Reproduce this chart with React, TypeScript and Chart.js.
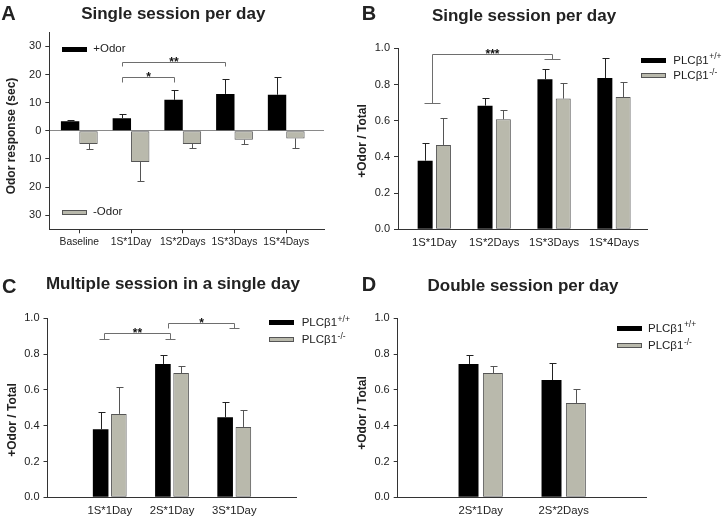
import React, { useEffect, useRef } from 'react';
import { Chart, registerables } from 'chart.js';

Chart.register(...registerables);

// ---------- Panel A: Single session per day (odor response, sec) ----------
const categoriesA = ['Baseline', '1S*1Day', '1S*2Days', '1S*3Days', '1S*4Days'];
const plusOdor = [3.4, 4.5, 11.0, 13.1, 12.8];
const plusOdorSem = [0.6, 1.3, 3.4, 5.4, 6.2];
const minusOdor = [-4.7, -11.1, -4.7, -3.2, -2.7];
const minusOdorSem = [1.7, 6.6, 1.3, 1.4, 3.4];
const yTicksA = [-30, -20, -10, 0, 10, 20, 30];

// ---------- Panel B: Single session per day (+Odor / Total) ----------
const categoriesB = ['1S*1Day', '1S*2Days', '1S*3Days', '1S*4Days'];
const wtB = [0.379, 0.683, 0.829, 0.836];
const wtSemB = [0.096, 0.044, 0.055, 0.109];
const koB = [0.466, 0.608, 0.722, 0.731];
const koSemB = [0.151, 0.049, 0.088, 0.085];

// ---------- Panel C: Multiple session in a single day ----------
const categoriesC = ['1S*1Day', '2S*1Day', '3S*1Day'];
const wtC = [0.38, 0.745, 0.447];
const wtSemC = [0.097, 0.05, 0.087];
const koC = [0.466, 0.694, 0.393];
const koSemC = [0.152, 0.041, 0.093];

// ---------- Panel D: Double session per day ----------
const categoriesD = ['2S*1Day', '2S*2Days'];
const wtD = [0.745, 0.655];
const wtSemD = [0.05, 0.097];
const koD = [0.694, 0.527];
const koSemD = [0.041, 0.076];

const ratioTicks = [0, 0.2, 0.4, 0.6, 0.8, 1.0];

// significance annotations (value units)
const sigA = [
  { from: 1, to: 2, level: 19.0, end1: 17.2, end2: 17.2, label: '*' },
  { from: 1, to: 3, level: 24.5, end1: 22.9, end2: 22.9, label: '**' },
];
const sigB = [{ from: 0, to: 2, level: 0.967, end1: 0.7, end2: 0.939, label: '***' }];
const sigC = [
  { from: 0, to: 1, level: 0.916, end1: 0.884, end2: 0.884, label: '**' },
  { from: 1, to: 2, level: 0.974, end1: 0.944, end2: 0.944, label: '*' },
];

// ---------- styles ----------
const W = 726;
const H = 519;
const YW = 40;
const XH = 20;
const FONT = '"Liberation Sans", Arial, Helvetica, sans-serif';
const TEXT = '#222222';
const AXIS = '#333333';
const BLACK = '#000000';
const GRAY_FILL = '#b9b9ac';
const GRAY_EDGE = '#555555';
const BRACKET = '#6e6e6e';

const errorBarPlugin = {
  id: 'errorBars',
  afterDatasetsDraw(chart: any) {
    const ctx = chart.ctx;
    const ys = chart.scales.y;
    chart.data.datasets.forEach((ds: any, d: number) => {
      const meta = chart.getDatasetMeta(d);
      meta.data.forEach((el: any, i: number) => {
        const v = ds.data[i].y;
        const e = ds.errors[i];
        const sign = v >= 0 ? 1 : -1;
        const yEnd = Math.round(ys.getPixelForValue(v + sign * e)) + 0.5;
        const x = Math.round(el.x) + 0.5;
        const half = 3;
        ctx.save();
        ctx.strokeStyle = ds.errColor;
        ctx.lineWidth = 1;
        ctx.beginPath();
        ctx.moveTo(x, el.y);
        ctx.lineTo(x, yEnd);
        ctx.moveTo(x - half, yEnd);
        ctx.lineTo(x + half + 1, yEnd);
        ctx.stroke();
        ctx.restore();
      });
    });
  },
};

const bracketPlugin = {
  id: 'brackets',
  afterDatasetsDraw(chart: any, _args: any, opts: any) {
    const items = opts.items || [];
    if (!items.length) return;
    const ctx = chart.ctx;
    const xs = chart.scales.x;
    const ys = chart.scales.y;
    const xAt = (i: number) =>
      opts.onBar ? chart.getDatasetMeta(0).data[i].x : xs.getPixelForValue(opts.positions[i]);
    ctx.save();
    ctx.strokeStyle = BRACKET;
    ctx.lineWidth = 1;
    items.forEach((b: any, k: number) => {
      const st = (opts.styles && opts.styles[k]) || {};
      const x1 = Math.round(xAt(b.from) + (st.dx1 || 0)) + 0.5;
      const x2 = Math.round(xAt(b.to) + (st.dx2 || 0)) + 0.5;
      const yl = Math.round(ys.getPixelForValue(b.level)) + 0.5;
      const y1 = Math.round(ys.getPixelForValue(b.end1)) + 0.5;
      const y2 = Math.round(ys.getPixelForValue(b.end2)) + 0.5;
      ctx.beginPath();
      ctx.moveTo(x1, y1);
      ctx.lineTo(x1, yl);
      ctx.lineTo(x2, yl);
      ctx.lineTo(x2, y2);
      if (st.cap1) {
        ctx.moveTo(x1 - st.cap1 / 2, y1);
        ctx.lineTo(x1 + st.cap1 / 2, y1);
      }
      if (st.cap2) {
        ctx.moveTo(x2 - st.cap2 / 2, y2);
        ctx.lineTo(x2 + st.cap2 / 2, y2);
      }
      ctx.stroke();
      ctx.fillStyle = '#111111';
      ctx.font = `bold 12px ${FONT}`;
      ctx.textAlign = 'center';
      ctx.textBaseline = 'alphabetic';
      ctx.fillText(b.label, (x1 + x2) / 2, yl + 3);
    });
    ctx.restore();
  },
};

type Area = { left: number; top: number; right: number; bottom: number };

function buildChart(canvas: HTMLCanvasElement, spec: any) {
  const { area, labels, positions, series, xMin, xMax, yMin, yMax, yTicks, yFmt, catPct, barPct, xTickColor, zeroLine, brackets, xFontSize } = spec;
  const a: Area = area;
  return new Chart(canvas, {
    type: 'bar',
    data: {
      datasets: series.map((s: any) => ({
        label: s.label,
        data: s.values.map((v: number, i: number) => ({ x: positions[i], y: v })),
        backgroundColor: s.fill,
        borderColor: s.border,
        borderWidth: s.borderWidth,
        borderSkipped: false,
        categoryPercentage: catPct,
        barPercentage: barPct,
        errors: s.sem,
        errColor: s.errColor,
      })),
    },
    options: {
      responsive: false,
      animation: false,
      devicePixelRatio: 1,
      layout: {
        padding: { left: a.left - YW, top: a.top, right: W - a.right, bottom: H - a.bottom - XH },
      },
      plugins: {
        legend: { display: false },
        tooltip: { enabled: false },
        title: { display: false },
        brackets,
      },
      scales: {
        x: {
          type: 'linear',
          min: xMin,
          max: xMax,
          offset: false,
          afterBuildTicks: (s: any) => {
            s.ticks = positions.map((v: number) => ({ value: v }));
          },
          afterFit: (s: any) => {
            s.height = XH;
          },
          ticks: {
            callback: (_v: any, i: number) => labels[i],
            font: { family: FONT, size: xFontSize },
            color: TEXT,
            padding: 3,
            maxRotation: 0,
            autoSkip: false,
          },
          grid: { display: true, offset: false, drawOnChartArea: false, drawTicks: true, tickLength: 4, tickColor: xTickColor },
          border: { display: true, color: AXIS, width: 1 },
        },
        y: {
          type: 'linear',
          min: yMin,
          max: yMax,
          afterBuildTicks: (s: any) => {
            s.ticks = yTicks.map((v: number) => ({ value: v }));
          },
          afterFit: (s: any) => {
            s.width = YW;
          },
          ticks: { callback: (v: any) => yFmt(v), font: { family: FONT, size: 11 }, color: TEXT, padding: 4 },
          grid: {
            display: true,
            drawOnChartArea: !!zeroLine,
            color: (c: any) => (zeroLine && c.tick && c.tick.value === 0 ? '#8a8a8a' : 'rgba(0,0,0,0)'),
            drawTicks: true,
            tickLength: 4,
            tickColor: AXIS,
          },
          border: { display: true, color: AXIS, width: 1 },
        },
      },
    },
    plugins: [errorBarPlugin, bracketPlugin],
  } as any);
}

const blackSeries = (label: string, values: number[], sem: number[]) => ({
  label, values, sem, fill: BLACK, border: BLACK, borderWidth: 0, errColor: '#222222',
});
const graySeries = (label: string, values: number[], sem: number[]) => ({
  label, values, sem, fill: GRAY_FILL, border: GRAY_EDGE, borderWidth: 1, errColor: GRAY_EDGE,
});

const txt = (x: number, y: number, s: any, style: any, key: string, anchor = 'center') => (
  <div
    key={key}
    style={{
      position: 'absolute',
      left: x,
      top: y,
      transform: anchor === 'center' ? 'translate(-50%,-50%)' : 'translate(0,-50%)',
      whiteSpace: 'nowrap',
      lineHeight: 1,
      fontFamily: FONT,
      color: TEXT,
      ...style,
    }}
  >
    {s}
  </div>
);

const vtxt = (x: number, y: number, s: string, key: string) => (
  <div
    key={key}
    style={{
      position: 'absolute',
      left: x,
      top: y,
      transform: 'translate(-50%,-50%) rotate(-90deg)',
      whiteSpace: 'nowrap',
      lineHeight: 1,
      fontFamily: FONT,
      fontWeight: 'bold',
      fontSize: 12,
      color: TEXT,
    }}
  >
    {s}
  </div>
);

const box = (x: number, y: number, gray: boolean, key: string) => (
  <div
    key={key}
    style={{
      position: 'absolute',
      left: x,
      top: y,
      width: 25,
      height: 5,
      boxSizing: 'border-box',
      background: gray ? GRAY_FILL : BLACK,
      border: gray ? `1px solid ${GRAY_EDGE}` : 'none',
    }}
  />
);

const plc = (sup: string) => (
  <span>
    PLCβ1<span style={{ fontSize: 8.5, position: 'relative', top: -4.5, marginLeft: 0.5 }}>{sup}</span>
  </span>
);

export default function App() {
  const refA = useRef<HTMLCanvasElement>(null);
  const refB = useRef<HTMLCanvasElement>(null);
  const refC = useRef<HTMLCanvasElement>(null);
  const refD = useRef<HTMLCanvasElement>(null);

  useEffect(() => {
    const fmt1 = (v: number) => v.toFixed(1);
    const charts: Chart[] = [];
    charts.push(
      buildChart(refA.current!, {
        area: { left: 49.3, top: 32.3, right: 324, bottom: 229.3 },
        labels: categoriesA,
        positions: categoriesA.map((_, i) => i),
        series: [blackSeries('+Odor', plusOdor, plusOdorSem), graySeries('-Odor', minusOdor, minusOdorSem)],
        xMin: -0.58,
        xMax: 4.73,
        yMin: -35,
        yMax: 35,
        yTicks: yTicksA,
        yFmt: (v: number) => String(Math.abs(v)),
        catPct: 0.711,
        barPct: 1.0,
        xTickColor: AXIS,
        zeroLine: true,
        xFontSize: 10.3,
        brackets: { items: sigA, onBar: true, styles: [{}, {}] },
      })
    );
    charts.push(
      buildChart(refB.current!, {
        area: { left: 398, top: 48.3, right: 647, bottom: 229.3 },
        labels: categoriesB,
        positions: categoriesB.map((_, i) => i),
        series: [blackSeries('PLCβ1+/+', wtB, wtSemB), graySeries('PLCβ1-/-', koB, koSemB)],
        xMin: -0.606,
        xMax: 3.551,
        yMin: 0,
        yMax: 1,
        yTicks: ratioTicks,
        yFmt: fmt1,
        catPct: 0.611,
        barPct: 0.82,
        xTickColor: 'rgba(0,0,0,0)',
        zeroLine: false,
        xFontSize: 11.3,
        brackets: {
          items: sigB,
          onBar: false,
          positions: categoriesB.map((_, i) => i),
          styles: [{ dx1: -2, dx2: -2, cap1: 16, cap2: 16 }],
        },
      })
    );
    charts.push(
      buildChart(refC.current!, {
        area: { left: 47.5, top: 318.3, right: 296.5, bottom: 497.3 },
        labels: categoriesC,
        positions: categoriesC.map((_, i) => i + 1),
        series: [blackSeries('PLCβ1+/+', wtC, wtSemC), graySeries('PLCβ1-/-', koC, koSemC)],
        xMin: 0,
        xMax: 4,
        yMin: 0,
        yMax: 1,
        yTicks: ratioTicks,
        yFmt: fmt1,
        catPct: 0.585,
        barPct: 0.857,
        xTickColor: 'rgba(0,0,0,0)',
        zeroLine: false,
        xFontSize: 11.3,
        brackets: {
          items: sigC,
          onBar: false,
          positions: categoriesC.map((_, i) => i + 1),
          styles: [
            { dx1: -5.5, dx2: -2, cap1: 10, cap2: 10 },
            { dx1: -4, dx2: 0, cap2: 10 },
          ],
        },
      })
    );
    charts.push(
      buildChart(refD.current!, {
        area: { left: 397.7, top: 318.3, right: 646.7, bottom: 497.3 },
        labels: categoriesD,
        positions: categoriesD.map((_, i) => i + 1),
        series: [blackSeries('PLCβ1+/+', wtD, wtSemD), graySeries('PLCβ1-/-', koD, koSemD)],
        xMin: 0,
        xMax: 3,
        yMin: 0,
        yMax: 1,
        yTicks: ratioTicks,
        yFmt: fmt1,
        catPct: 0.587,
        barPct: 0.82,
        xTickColor: 'rgba(0,0,0,0)',
        zeroLine: false,
        xFontSize: 11.3,
        brackets: { items: [], onBar: false, positions: [1, 2], styles: [] },
      })
    );
    return () => charts.forEach((c) => c.destroy());
  }, []);

  const canvasStyle: React.CSSProperties = { position: 'absolute', left: 0, top: 0, width: W, height: H };
  const letter = { fontWeight: 'bold', fontSize: 20 };
  const title = { fontWeight: 'bold', fontSize: 17 };
  const leg = { fontSize: 11.5 };

  return (
    <div style={{ position: 'absolute', left: 0, top: 0, width: W, height: H, background: '#ffffff', overflow: 'hidden' }}>
      <canvas ref={refA} width={W} height={H} style={canvasStyle} />
      <canvas ref={refB} width={W} height={H} style={canvasStyle} />
      <canvas ref={refC} width={W} height={H} style={canvasStyle} />
      <canvas ref={refD} width={W} height={H} style={canvasStyle} />

      {txt(8.5, 13, 'A', letter, 'la')}
      {txt(369, 13, 'B', letter, 'lb')}
      {txt(9.2, 286, 'C', letter, 'lc')}
      {txt(369, 284, 'D', letter, 'ld')}

      {txt(173.3, 12.5, 'Single session per day', title, 'ta')}
      {txt(524, 14.5, 'Single session per day', title, 'tb')}
      {txt(173, 283, 'Multiple session in a single day', title, 'tc')}
      {txt(523, 285, 'Double session per day', title, 'td')}

      {vtxt(11, 136, 'Odor response (sec)', 'ya')}
      {vtxt(362, 141, '+Odor / Total', 'yb')}
      {vtxt(12, 420, '+Odor / Total', 'yc')}
      {vtxt(362, 413, '+Odor / Total', 'yd')}

      {box(62, 46.5, false, 'ba1')}
      {txt(93.3, 49, '+Odor', leg, 'ga1', 'left')}
      {box(61.5, 209.5, true, 'ba2')}
      {txt(93, 212, '-Odor', leg, 'ga2', 'left')}

      {box(641, 57.5, false, 'bb1')}
      {txt(673.3, 60.5, plc('+/+'), leg, 'gb1', 'left')}
      {box(641, 72.7, true, 'bb2')}
      {txt(673.3, 76, plc('-/-'), leg, 'gb2', 'left')}

      {box(269, 320, false, 'bc1')}
      {txt(301.7, 323, plc('+/+'), leg, 'gc1', 'left')}
      {box(269, 336.7, true, 'bc2')}
      {txt(301.7, 340, plc('-/-'), leg, 'gc2', 'left')}

      {box(616.5, 325.5, false, 'bd1')}
      {txt(648, 328.5, plc('+/+'), leg, 'gd1', 'left')}
      {box(616.5, 343, true, 'bd2')}
      {txt(648, 346, plc('-/-'), leg, 'gd2', 'left')}
    </div>
  );
}
